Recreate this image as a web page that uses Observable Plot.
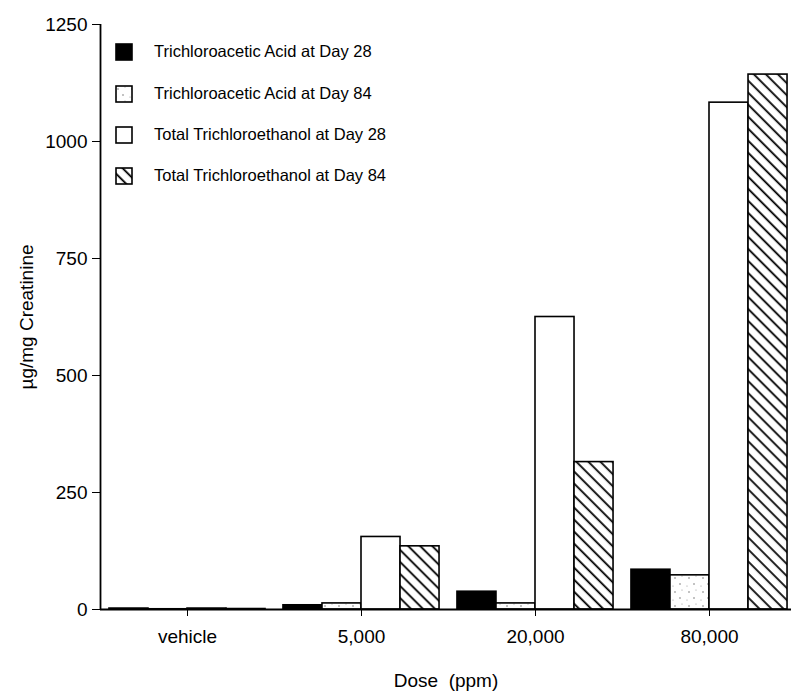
<!DOCTYPE html>
<html><head><meta charset="utf-8">
<script src="https://cdn.jsdelivr.net/npm/d3@7"></script>
<script src="https://cdn.jsdelivr.net/npm/@observablehq/plot@0.6"></script>
<style>
body{margin:0;background:#fff;font-family:"Liberation Sans",Arial,Helvetica,sans-serif;}
#chart{position:relative;width:791px;height:692px;}
.leg{position:absolute;left:115px;display:flex;align-items:center;font-size:16.5px;color:#000;white-space:nowrap;}
.leg svg{margin-right:21px;}
</style>
</head><body>
<div id="chart"></div>
<script>
// ---- data ----
const doses = ["vehicle", "5,000", "20,000", "80,000"];
const seriesNames = [
  "Trichloroacetic Acid at Day 28",
  "Trichloroacetic Acid at Day 84",
  "Total Trichloroethanol at Day 28",
  "Total Trichloroethanol at Day 84"
];
const tca28  = [2, 9, 38, 85];
const tca84  = [0.5, 13, 13, 73];
const ttce28 = [2, 155, 625, 1083];
const ttce84 = [1, 135, 315, 1143];
const yTicks = [0, 250, 500, 750, 1000, 1250];
const fills = ["#000", "url(#dots)", "#fff", "url(#hatch)"];

const seriesValues = [tca28, tca84, ttce28, ttce84];
const data = doses.flatMap((d, i) => seriesNames.map((s, j) => ({gi: i, si: j, dose: d, series: s, value: seriesValues[j][i]})));

// layout constants (group = one dose, unit width on the x scale)
const groupWidth = 0.897;
const barWidth = groupWidth / seriesNames.length;

const defs = `
<pattern id="hatch" patternUnits="userSpaceOnUse" width="8.5" height="8.5" patternTransform="rotate(45)">
  <rect width="8.5" height="8.5" fill="#fff"/>
  <line x1="0" y1="4" x2="8.5" y2="4" stroke="#000" stroke-width="1.8"/>
</pattern>
<pattern id="dots" patternUnits="userSpaceOnUse" width="14" height="14">
  <rect width="14" height="14" fill="#fff"/>
  <circle cx="3" cy="4" r="0.8" fill="#777"/>
  <circle cx="10" cy="2" r="0.6" fill="#999"/>
  <circle cx="8" cy="10" r="0.8" fill="#777"/>
  <circle cx="1" cy="12" r="0.6" fill="#999"/>
</pattern>`;

const font = '"Liberation Sans", Arial, Helvetica, sans-serif';
const plot = Plot.plot({
  width: 791, height: 692,
  marginLeft: 100, marginRight: 0, marginTop: 24, marginBottom: 83,
  style: {fontFamily: font, fontSize: "19px", color: "#000", background: "transparent", overflow: "visible"},
  x: {domain: [-0.5, doses.length - 0.5], range: [100, 796]},
  y: {domain: [0, 1250]},
  color: {domain: seriesNames, range: fills},
  marks: [
    Plot.rectY(data, {
      x1: d => d.gi - groupWidth / 2 + d.si * barWidth,
      x2: d => d.gi - groupWidth / 2 + (d.si + 1) * barWidth,
      y: "value", fill: "series", stroke: "#000", strokeWidth: 1.6
    }),
    Plot.ruleY([0], {stroke: "#000", strokeWidth: 1.8}),
    Plot.ruleX([-0.5], {stroke: "#000", strokeWidth: 1.8}),
    Plot.axisY({ticks: yTicks, tickFormat: d3.format("d"), tickSize: 8, tickPadding: 5,
      label: "µg/mg Creatinine", labelAnchor: "center", labelOffset: 81, labelArrow: false, fontSize: 19}),
    Plot.axisX({ticks: d3.range(doses.length), tickFormat: i => doses[i], tickSize: 7, tickPadding: 13,
      label: "Dose\u00a0 (ppm)", labelAnchor: "center", labelOffset: 77, labelArrow: false, fontSize: 19})
  ]
});
const svgEl = plot.tagName.toLowerCase() === "svg" ? plot : plot.querySelector("svg");
const defsEl = document.createElementNS("http://www.w3.org/2000/svg", "defs");
defsEl.innerHTML = defs;
svgEl.insertBefore(defsEl, svgEl.firstChild);
document.getElementById("chart").appendChild(plot);

// ---- legend (HTML overlay inside plot area) ----
const legendTops = [42, 84, 125, 166];
seriesNames.forEach((s, j) => {
  const row = document.createElement("div");
  row.className = "leg";
  row.style.top = legendTops[j] + "px";
  row.innerHTML = `<svg width="18" height="18"><rect x="1" y="1" width="16" height="16" fill="${fills[j]}" stroke="#000" stroke-width="1.6"/></svg><span>${s}</span>`;
  document.getElementById("chart").appendChild(row);
});
</script>
</body></html>
